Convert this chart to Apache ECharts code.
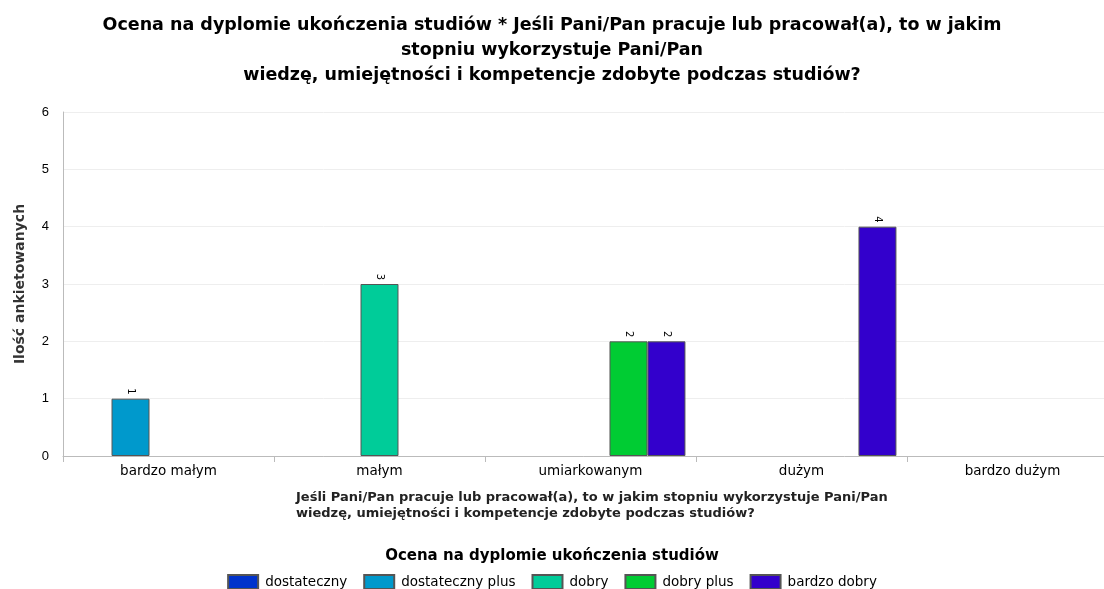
<!DOCTYPE html>
<html><head><meta charset="utf-8">
<script src="https://cdn.jsdelivr.net/npm/echarts@6/dist/echarts.min.js"></script>
<style>html,body{margin:0;padding:0;background:#fff}#c{width:1104px;height:589px}</style>
</head><body><div id="c"></div>
<script>
const categories = ['bardzo małym', 'małym', 'umiarkowanym', 'dużym', 'bardzo dużym'];
const seriesNames = ['dostateczny', 'dostateczny plus', 'dobry', 'dobry plus', 'bardzo dobry'];
const dostateczny = [null, null, null, null, null];
const dostatecznyPlus = [1, null, null, null, null];
const dobry = [null, 3, null, null, null];
const dobryPlus = [null, null, 2, null, null];
const bardzoDobry = [null, null, 2, 4, null];
const yTicks = [0, 1, 2, 3, 4, 5, 6];
const colors = ['#0033CC', '#0099CC', '#00CC99', '#00CC33', '#3300CC'];
const seriesData = [dostateczny, dostatecznyPlus, dobry, dobryPlus, bardzoDobry];

const chart = echarts.init(document.getElementById('c'), null, {renderer: 'canvas'});
chart.setOption({
  animation: false,
  backgroundColor: '#fff',
  title: [
    {text: 'Ocena na dyplomie ukończenia studiów * Jeśli Pani/Pan pracuje lub pracował(a), to w jakim\nstopniu wykorzystuje Pani/Pan\nwiedzę, umiejętności i kompetencje zdobyte podczas studiów?',
     left: 'center', top: 8,
     textStyle: {fontFamily: 'DejaVu Sans', fontSize: 17.5, fontWeight: 'bold', color: '#000', lineHeight: 25}},
    {text: 'Jeśli Pani/Pan pracuje lub pracował(a), to w jakim stopniu wykorzystuje Pani/Pan\nwiedzę, umiejętności i kompetencje zdobyte podczas studiów?',
     left: 291, top: 485,
     textStyle: {fontFamily: 'DejaVu Sans', fontSize: 13, fontWeight: 'bold', color: '#222', lineHeight: 16}},
    {text: 'Ocena na dyplomie ukończenia studiów', left: 'center', top: 544,
     textStyle: {fontFamily: 'DejaVu Sans', fontSize: 15, fontWeight: 'bold', color: '#000'}}
  ],
  legend: {
    data: seriesNames, top: 569, left: 'center', icon: 'rect', itemWidth: 30, itemHeight: 14, itemGap: 16,
    textStyle: {fontFamily: 'DejaVu Sans', fontSize: 13.5, color: '#000', padding: [0, 0, 0, 2]}
  },
  grid: {left: 63, top: 112, width: 1055, height: 344, outerBoundsMode: 'none'},
  xAxis: {
    type: 'category', data: categories,
    axisLine: {lineStyle: {color: '#bbb'}},
    axisTick: {show: true, length: 6, lineStyle: {color: '#bbb'}},
    axisLabel: {fontFamily: 'DejaVu Sans', fontSize: 13.5, color: '#000', margin: 8}
  },
  yAxis: {
    type: 'value', min: 0, max: 6, interval: 1,
    name: 'Ilość ankietowanych', nameLocation: 'middle', nameGap: 36,
    nameTextStyle: {fontFamily: 'DejaVu Sans', fontSize: 14, fontWeight: 'bold', color: '#333'},
    axisLine: {show: true, lineStyle: {color: '#bbb'}},
    axisTick: {show: false},
    splitLine: {lineStyle: {color: '#eee'}},
    axisLabel: {fontFamily: 'Liberation Sans, Arial', fontSize: 13, color: '#000', margin: 14,
      formatter: v => yTicks.includes(v) ? String(v) : ''}
  },
  series: seriesNames.map((n, i) => ({
    name: n, type: 'bar', data: seriesData[i], barGap: '0%', barCategoryGap: '10%',
    itemStyle: {color: colors[i], borderColor: '#555', borderWidth: 1},
    label: {show: true, position: 'top', rotate: -90, align: 'right', verticalAlign: 'middle', distance: 4,
      fontFamily: 'DejaVu Sans', fontSize: 10, color: '#000'}
  }))
});
</script></body></html>
